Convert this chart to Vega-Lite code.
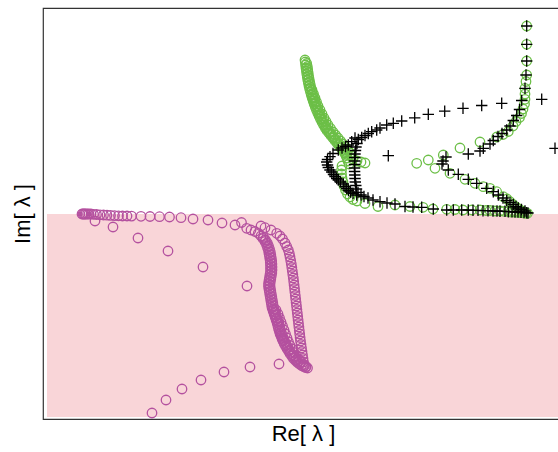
{
  "$schema": "https://vega.github.io/schema/vega-lite/v6.json",
  "width": 520,
  "height": 411,
  "autosize": "none",
  "padding": {"left": 43, "top": 8, "right": 0, "bottom": 33},
  "background": "white",
  "config": {
    "view": {"stroke": "#333", "strokeWidth": 1.2},
    "axis": {"grid": false, "labels": false, "ticks": false, "domain": false, "titleFont": "Liberation Sans", "titleFontSize": 22, "titleFontWeight": "normal", "titleColor": "#000"}
  },
  "datasets": {
    "bg": [{"re": 47, "re2": 563, "im": -203, "im2": 0}],
    "circ": [
      {"series":"A","re":82,"im":0},{"series":"A","re":83,"im":0},{"series":"A","re":84,"im":0},{"series":"A","re":85,"im":0},{"series":"A","re":86,"im":0},{"series":"A","re":87.5,"im":0},{"series":"A","re":89,"im":0},{"series":"A","re":91,"im":0},{"series":"A","re":93.5,"im":-0.3},{"series":"A","re":96.5,"im":-0.5},{"series":"A","re":100,"im":-0.8},{"series":"A","re":103.5,"im":-1},{"series":"A","re":107,"im":-1.2},{"series":"A","re":110.5,"im":-1.4},{"series":"A","re":114.5,"im":-1.6},{"series":"A","re":118.5,"im":-1.8},{"series":"A","re":122.5,"im":-2},{"series":"A","re":127,"im":-2},{"series":"A","re":131.5,"im":-2.1},{"series":"A","re":141,"im":-2.3},{"series":"A","re":150,"im":-2.5},{"series":"A","re":159.5,"im":-2.7},{"series":"A","re":169.5,"im":-3},{"series":"A","re":181,"im":-3.7},{"series":"A","re":193,"im":-5},{"series":"A","re":208,"im":-6},{"series":"A","re":222,"im":-9},{"series":"A","re":235,"im":-11},{"series":"A","re":241.5,"im":-8.5},{"series":"A","re":246.7,"im":-14.3},{"series":"A","re":251,"im":-16},{"series":"A","re":255,"im":-17.5},{"series":"A","re":258.3,"im":-19.3},
      {"series":"A","re":261,"im":-22},{"series":"A","re":263,"im":-24.5},{"series":"A","re":265,"im":-27.5},{"series":"A","re":266.5,"im":-30.5},{"series":"A","re":267.5,"im":-33.5},{"series":"A","re":268.5,"im":-36.5},{"series":"A","re":269,"im":-39.5},{"series":"A","re":269.5,"im":-42.5},{"series":"A","re":270,"im":-45.5},{"series":"A","re":270.3,"im":-48.5},{"series":"A","re":270.5,"im":-51.5},{"series":"A","re":270.5,"im":-54.5},{"series":"A","re":270.5,"im":-57.5},{"series":"A","re":270,"im":-60.5},{"series":"A","re":269.5,"im":-63.5},{"series":"A","re":269,"im":-66.5},{"series":"A","re":268.5,"im":-69.5},{"series":"A","re":268.5,"im":-72.5},{"series":"A","re":269,"im":-75.5},{"series":"A","re":269.5,"im":-78.5},{"series":"A","re":270,"im":-81.5},{"series":"A","re":270.5,"im":-84.5},{"series":"A","re":271,"im":-87.5},{"series":"A","re":271.5,"im":-90.5},{"series":"A","re":272,"im":-93.5},{"series":"A","re":273,"im":-96.5},{"series":"A","re":274,"im":-99.5},{"series":"A","re":275,"im":-102.5},{"series":"A","re":276,"im":-105.5},{"series":"A","re":277,"im":-108.5},{"series":"A","re":277.8,"im":-111.5},{"series":"A","re":278.5,"im":-114.5},{"series":"A","re":279.3,"im":-117},{"series":"A","re":280,"im":-119.5},{"series":"A","re":281,"im":-122},{"series":"A","re":282,"im":-124.5},{"series":"A","re":283,"im":-127},{"series":"A","re":284.2,"im":-129.5},{"series":"A","re":285.5,"im":-132},{"series":"A","re":287,"im":-134.5},{"series":"A","re":288.5,"im":-137},{"series":"A","re":290,"im":-139.5},{"series":"A","re":291.7,"im":-142},{"series":"A","re":293.5,"im":-144.5},{"series":"A","re":295.5,"im":-146.5},{"series":"A","re":297.5,"im":-148.5},{"series":"A","re":299.5,"im":-150},{"series":"A","re":301.5,"im":-151.5},{"series":"A","re":303.5,"im":-152.5},{"series":"A","re":305.5,"im":-153.5},{"series":"A","re":307.5,"im":-154},
      {"series":"A","re":263.5,"im":-23.3},{"series":"A","re":265.5,"im":-26},{"series":"A","re":267.3,"im":-29},{"series":"A","re":268.5,"im":-32},{"series":"A","re":269.5,"im":-35},{"series":"A","re":270.3,"im":-38},{"series":"A","re":270.8,"im":-41},{"series":"A","re":271.3,"im":-44},{"series":"A","re":271.7,"im":-47},{"series":"A","re":271.9,"im":-50},{"series":"A","re":272,"im":-53},{"series":"A","re":272,"im":-56},{"series":"A","re":271.8,"im":-59},{"series":"A","re":271.3,"im":-62},{"series":"A","re":270.8,"im":-65},{"series":"A","re":270.3,"im":-68},{"series":"A","re":270,"im":-71},{"series":"A","re":270.3,"im":-74},{"series":"A","re":270.8,"im":-77},{"series":"A","re":271.3,"im":-80},{"series":"A","re":271.8,"im":-83},{"series":"A","re":272.3,"im":-86},{"series":"A","re":272.8,"im":-89},{"series":"A","re":273.3,"im":-92},{"series":"A","re":274,"im":-95},{"series":"A","re":275,"im":-98},{"series":"A","re":276,"im":-101},{"series":"A","re":277,"im":-104},{"series":"A","re":278,"im":-107},{"series":"A","re":279,"im":-110},{"series":"A","re":279.7,"im":-113},{"series":"A","re":280.4,"im":-115.8},{"series":"A","re":281.2,"im":-118.3},{"series":"A","re":282,"im":-120.8},{"series":"A","re":283,"im":-123.3},{"series":"A","re":284,"im":-125.8},{"series":"A","re":285.1,"im":-128.3},{"series":"A","re":286.4,"im":-130.8},{"series":"A","re":287.8,"im":-133.3},{"series":"A","re":289.3,"im":-135.8},{"series":"A","re":290.8,"im":-138.3},{"series":"A","re":292.4,"im":-140.8},{"series":"A","re":294.1,"im":-143.3},{"series":"A","re":296,"im":-145.5},{"series":"A","re":298,"im":-147.5},
      {"series":"A","re":276,"im":-96},{"series":"A","re":278,"im":-100},{"series":"A","re":279.5,"im":-104},{"series":"A","re":281,"im":-108},{"series":"A","re":282.5,"im":-112},{"series":"A","re":284,"im":-116},{"series":"A","re":285.5,"im":-120},{"series":"A","re":287,"im":-124},{"series":"A","re":288.5,"im":-128},{"series":"A","re":290,"im":-131.5},{"series":"A","re":292,"im":-135},{"series":"A","re":294,"im":-138.5},{"series":"A","re":296,"im":-142},{"series":"A","re":298.5,"im":-145},{"series":"A","re":301,"im":-148},{"series":"A","re":303.5,"im":-150.5},{"series":"A","re":306,"im":-152.5},
      {"series":"A","re":261,"im":-12},{"series":"A","re":265,"im":-13.7},{"series":"A","re":271,"im":-16},{"series":"A","re":276.7,"im":-19.3},{"series":"A","re":280,"im":-22},{"series":"A","re":282.5,"im":-25},{"series":"A","re":285,"im":-29},{"series":"A","re":286.7,"im":-32.5},{"series":"A","re":288.3,"im":-36},{"series":"A","re":289.3,"im":-39.5},{"series":"A","re":290,"im":-43},{"series":"A","re":290.7,"im":-46.5},{"series":"A","re":291.3,"im":-50},{"series":"A","re":291.8,"im":-53.5},{"series":"A","re":292.3,"im":-57},{"series":"A","re":292.8,"im":-60.5},{"series":"A","re":293.3,"im":-64},{"series":"A","re":293.7,"im":-67.5},{"series":"A","re":294.1,"im":-71},{"series":"A","re":294.5,"im":-74.5},{"series":"A","re":294.9,"im":-78},{"series":"A","re":295.3,"im":-81.5},{"series":"A","re":295.7,"im":-85},{"series":"A","re":296.1,"im":-88.5},{"series":"A","re":296.5,"im":-92},{"series":"A","re":296.9,"im":-95.5},{"series":"A","re":297.3,"im":-99},{"series":"A","re":297.7,"im":-102.5},{"series":"A","re":298.1,"im":-106},{"series":"A","re":298.5,"im":-109.5},{"series":"A","re":298.9,"im":-113},{"series":"A","re":299.3,"im":-116.5},{"series":"A","re":299.7,"im":-120},{"series":"A","re":300.1,"im":-123.5},{"series":"A","re":300.5,"im":-127},{"series":"A","re":301,"im":-130.5},{"series":"A","re":301.5,"im":-134},{"series":"A","re":302,"im":-137.5},{"series":"A","re":302.5,"im":-141},{"series":"A","re":303,"im":-144.5},{"series":"A","re":303.5,"im":-148},{"series":"A","re":304.5,"im":-151.5},
      {"series":"A","re":95,"im":-7},{"series":"A","re":113,"im":-13},{"series":"A","re":138,"im":-24},{"series":"A","re":168,"im":-37},{"series":"A","re":203,"im":-53},{"series":"A","re":247,"im":-72},
      {"series":"A","re":152,"im":-199},{"series":"A","re":166,"im":-186},{"series":"A","re":182,"im":-175},{"series":"A","re":201,"im":-166},{"series":"A","re":224,"im":-158},{"series":"A","re":250,"im":-153},{"series":"A","re":279,"im":-150},
      {"series":"B","re":305,"im":154},{"series":"B","re":305.3,"im":152},{"series":"B","re":305.6,"im":149},{"series":"B","re":306,"im":146},{"series":"B","re":306.4,"im":143},{"series":"B","re":306.8,"im":140},{"series":"B","re":307.3,"im":137},{"series":"B","re":307.8,"im":134},{"series":"B","re":308.4,"im":131},{"series":"B","re":309,"im":128},{"series":"B","re":309.7,"im":125},{"series":"B","re":310.5,"im":122},{"series":"B","re":311.3,"im":119},{"series":"B","re":312.2,"im":116},{"series":"B","re":313.2,"im":113},{"series":"B","re":314.2,"im":110},{"series":"B","re":315.3,"im":107},{"series":"B","re":316.5,"im":104},{"series":"B","re":317.8,"im":101},{"series":"B","re":319.1,"im":98},{"series":"B","re":320.5,"im":95},{"series":"B","re":322,"im":92},{"series":"B","re":323.6,"im":89},{"series":"B","re":325.3,"im":86},{"series":"B","re":327,"im":83.5},{"series":"B","re":329,"im":81},{"series":"B","re":331,"im":78.5},{"series":"B","re":333,"im":76},{"series":"B","re":335,"im":73.5},{"series":"B","re":337,"im":71},{"series":"B","re":339,"im":68.5},{"series":"B","re":341,"im":66},{"series":"B","re":343,"im":63.5},{"series":"B","re":344.5,"im":61},{"series":"B","re":346,"im":58.5},{"series":"B","re":347,"im":56},{"series":"B","re":348,"im":53},{"series":"B","re":349,"im":50},
      {"series":"B","re":306.7,"im":150.5},{"series":"B","re":307.3,"im":147.5},{"series":"B","re":307.7,"im":144.5},{"series":"B","re":308.1,"im":141.5},{"series":"B","re":308.5,"im":138.5},{"series":"B","re":309,"im":135.5},{"series":"B","re":309.6,"im":132.5},{"series":"B","re":310.2,"im":129.5},{"series":"B","re":310.8,"im":126.5},{"series":"B","re":311.6,"im":123.5},{"series":"B","re":312.4,"im":120.5},{"series":"B","re":313.2,"im":117.5},{"series":"B","re":314.2,"im":114.5},{"series":"B","re":315.2,"im":111.5},{"series":"B","re":316.2,"im":108.5},{"series":"B","re":317.4,"im":105.5},{"series":"B","re":318.6,"im":102.5},{"series":"B","re":319.9,"im":99.5},{"series":"B","re":321.3,"im":96.5},{"series":"B","re":322.7,"im":93.5},{"series":"B","re":324.3,"im":90.5},{"series":"B","re":325.9,"im":87.5},{"series":"B","re":327.6,"im":84.8},{"series":"B","re":329.5,"im":82.3},{"series":"B","re":331.5,"im":79.8},{"series":"B","re":333.5,"im":77.3},{"series":"B","re":335.5,"im":74.8},{"series":"B","re":337.5,"im":72.3},{"series":"B","re":339.5,"im":69.8},{"series":"B","re":341.5,"im":67.3},{"series":"B","re":343.5,"im":64.8},{"series":"B","re":345.2,"im":62.3},{"series":"B","re":346.7,"im":59.8},
      {"series":"B","re":312,"im":124},{"series":"B","re":313.5,"im":120},{"series":"B","re":315,"im":116},{"series":"B","re":316.5,"im":112},{"series":"B","re":318,"im":108},{"series":"B","re":320,"im":104},{"series":"B","re":322,"im":100},{"series":"B","re":324,"im":96},{"series":"B","re":326,"im":92.5},{"series":"B","re":328,"im":89},{"series":"B","re":330.5,"im":85.5},{"series":"B","re":333,"im":82},{"series":"B","re":335.5,"im":79},{"series":"B","re":338,"im":76},{"series":"B","re":340.5,"im":73},{"series":"B","re":343,"im":70},{"series":"B","re":345.5,"im":67},{"series":"B","re":348,"im":64},{"series":"B","re":350,"im":61},{"series":"B","re":351.5,"im":58},{"series":"B","re":353,"im":55},{"series":"B","re":357,"im":53},{"series":"B","re":361,"im":52},{"series":"B","re":365,"im":51},
      {"series":"B","re":342,"im":48},{"series":"B","re":341.5,"im":44},{"series":"B","re":341.5,"im":40},{"series":"B","re":342,"im":36},{"series":"B","re":343,"im":32},{"series":"B","re":344,"im":28},{"series":"B","re":345.5,"im":24},{"series":"B","re":347.5,"im":20},{"series":"B","re":350,"im":17},{"series":"B","re":353,"im":14.5},{"series":"B","re":357,"im":13},{"series":"B","re":365,"im":10.5},{"series":"B","re":378,"im":7.5},{"series":"B","re":395,"im":9},{"series":"B","re":410,"im":7.5},
      {"series":"B","re":423,"im":6.7},{"series":"B","re":433,"im":5},{"series":"B","re":446.7,"im":4.7},{"series":"B","re":455,"im":4.5},{"series":"B","re":463,"im":4},{"series":"B","re":471.7,"im":4},{"series":"B","re":480,"im":4},{"series":"B","re":486,"im":3.5},{"series":"B","re":490,"im":3.5},{"series":"B","re":495,"im":3},{"series":"B","re":500,"im":3},{"series":"B","re":504,"im":2.7},{"series":"B","re":508,"im":2.5},{"series":"B","re":511,"im":2},{"series":"B","re":514,"im":2},{"series":"B","re":517,"im":1.7},{"series":"B","re":520,"im":1.5},{"series":"B","re":522,"im":1.3},{"series":"B","re":524,"im":1},{"series":"B","re":526,"im":1},{"series":"B","re":527.5,"im":0.7},
      {"series":"B","re":435,"im":45.7},{"series":"B","re":450,"im":40.7},{"series":"B","re":465,"im":34.7},{"series":"B","re":475,"im":30.7},{"series":"B","re":483.3,"im":27.3},{"series":"B","re":490,"im":25.7},{"series":"B","re":496.7,"im":22.3},{"series":"B","re":503.3,"im":17.3},{"series":"B","re":507,"im":15},{"series":"B","re":510,"im":12.3},{"series":"B","re":513,"im":9.5},{"series":"B","re":516,"im":7},{"series":"B","re":519,"im":5},{"series":"B","re":522,"im":3},
      {"series":"B","re":416.7,"im":50.7},{"series":"B","re":428.3,"im":54},{"series":"B","re":443.3,"im":59},{"series":"B","re":460,"im":66},{"series":"B","re":480,"im":72},{"series":"B","re":496.7,"im":77},{"series":"B","re":503,"im":79.5},{"series":"B","re":508.3,"im":82.5},{"series":"B","re":513,"im":88},{"series":"B","re":516,"im":92.5},{"series":"B","re":519.5,"im":96.5},{"series":"B","re":521.5,"im":100.5},{"series":"B","re":523,"im":105},{"series":"B","re":524.5,"im":110},{"series":"B","re":525,"im":114.7},{"series":"B","re":525,"im":120},{"series":"B","re":525,"im":125.7},{"series":"B","re":526,"im":132.5},{"series":"B","re":526.7,"im":139},{"series":"B","re":526.7,"im":153},{"series":"B","re":526.7,"im":169.7},{"series":"B","re":526.7,"im":188}
    ],
    "plus": [
      {"series":"C","re":526.7,"im":188},{"series":"C","re":526.7,"im":169.7},{"series":"C","re":526.7,"im":153},{"series":"C","re":526,"im":139},{"series":"C","re":525,"im":125.7},
      {"series":"C","re":541.7,"im":114.7},{"series":"C","re":521.7,"im":113.5},{"series":"C","re":501.7,"im":110.7},{"series":"C","re":481.7,"im":108.5},{"series":"C","re":463,"im":105.7},{"series":"C","re":444.7,"im":102.8},{"series":"C","re":428.3,"im":99.7},{"series":"C","re":414.7,"im":96.2},{"series":"C","re":401.7,"im":93},{"series":"C","re":393.3,"im":90.7},{"series":"C","re":386.7,"im":89},{"series":"C","re":380,"im":86},{"series":"C","re":376.7,"im":84},{"series":"C","re":371.7,"im":82.3},{"series":"C","re":368.3,"im":80.5},{"series":"C","re":365,"im":78.5},{"series":"C","re":361.7,"im":76.5},{"series":"C","re":358.3,"im":74.5},
      {"series":"C","re":357,"im":70.5},{"series":"C","re":356,"im":67},{"series":"C","re":355.5,"im":63.5},{"series":"C","re":355,"im":60},{"series":"C","re":354.8,"im":56.5},{"series":"C","re":354.6,"im":53},{"series":"C","re":354.5,"im":49.5},{"series":"C","re":354.5,"im":46},{"series":"C","re":354.6,"im":42.5},{"series":"C","re":354.8,"im":39},{"series":"C","re":355,"im":35.5},{"series":"C","re":355.3,"im":32},{"series":"C","re":355.8,"im":28.5},{"series":"C","re":356.5,"im":25},{"series":"C","re":358,"im":21.5},{"series":"C","re":361,"im":19},{"series":"C","re":364,"im":17.5},{"series":"C","re":368,"im":16},{"series":"C","re":373,"im":14},{"series":"C","re":380,"im":12.3},{"series":"C","re":387,"im":11},{"series":"C","re":395,"im":10},{"series":"C","re":405,"im":7.5},{"series":"C","re":413,"im":7},{"series":"C","re":421.7,"im":6.7},{"series":"C","re":433.3,"im":5},{"series":"C","re":446.7,"im":4},{"series":"C","re":453.3,"im":4},{"series":"C","re":461.7,"im":4},{"series":"C","re":468.3,"im":4},{"series":"C","re":473,"im":3.7},{"series":"C","re":478,"im":3.7},{"series":"C","re":483,"im":3.3},{"series":"C","re":488,"im":3.3},{"series":"C","re":493,"im":3},{"series":"C","re":497,"im":3},{"series":"C","re":500,"im":2.7},{"series":"C","re":505,"im":2.7},{"series":"C","re":508.3,"im":2.3},{"series":"C","re":512,"im":2.3},{"series":"C","re":515,"im":2},{"series":"C","re":518,"im":2},{"series":"C","re":521,"im":1.7},{"series":"C","re":524,"im":1.5},{"series":"C","re":526.7,"im":1.3},{"series":"C","re":528,"im":1},
      {"series":"C","re":338.3,"im":64},{"series":"C","re":333,"im":60.5},{"series":"C","re":330,"im":57.3},{"series":"C","re":327.5,"im":54.5},{"series":"C","re":326.7,"im":52},{"series":"C","re":327.5,"im":49},{"series":"C","re":328.3,"im":46.5},{"series":"C","re":330,"im":44},{"series":"C","re":331.7,"im":42},{"series":"C","re":333.5,"im":39.5},{"series":"C","re":335,"im":37.5},{"series":"C","re":336.7,"im":35.5},{"series":"C","re":338.3,"im":34},{"series":"C","re":340.5,"im":32},{"series":"C","re":343.3,"im":30},{"series":"C","re":345,"im":27.5},{"series":"C","re":346.7,"im":25.5},{"series":"C","re":348.5,"im":23.5},{"series":"C","re":350.5,"im":22},{"series":"C","re":353,"im":20.7},{"series":"C","re":356.7,"im":19},
      {"series":"C","re":342,"im":66},{"series":"C","re":345.5,"im":67.5},{"series":"C","re":348.3,"im":69},{"series":"C","re":351.7,"im":72.3},{"series":"C","re":355,"im":76},
      {"series":"C","re":519.5,"im":104.5},{"series":"C","re":516.7,"im":98.5},{"series":"C","re":513.3,"im":93.5},{"series":"C","re":510,"im":88},{"series":"C","re":506.7,"im":84},{"series":"C","re":502,"im":80.5},{"series":"C","re":498,"im":77.5},{"series":"C","re":493.3,"im":73.5},{"series":"C","re":490,"im":70},{"series":"C","re":483.3,"im":65.7},{"series":"C","re":480,"im":63},{"series":"C","re":468.3,"im":60},{"series":"C","re":446,"im":57},{"series":"C","re":443,"im":53},{"series":"C","re":442,"im":50},{"series":"C","re":448.3,"im":44},{"series":"C","re":458.3,"im":39.7},{"series":"C","re":468.3,"im":34.7},{"series":"C","re":476.7,"im":30.7},{"series":"C","re":486.7,"im":25.7},{"series":"C","re":493.3,"im":22.3},{"series":"C","re":498.3,"im":19},{"series":"C","re":503,"im":16},{"series":"C","re":506.7,"im":13.5},{"series":"C","re":510,"im":11.5},{"series":"C","re":513.3,"im":9.5},{"series":"C","re":516,"im":7.5},{"series":"C","re":518.3,"im":6},{"series":"C","re":521.5,"im":4.5},{"series":"C","re":525,"im":3},
      {"series":"C","re":388.3,"im":58.3},{"series":"C","re":555,"im":65.7}
    ]
  },
  "layer": [
    {
      "data": {"name": "bg"},
      "mark": {"type": "rect", "color": "#F9D5D8"},
      "encoding": {
        "x": {"field": "re", "type": "quantitative", "scale": {"domain": [43, 563], "nice": false, "zero": false}, "axis": {"title": "Re[ λ ]", "titlePadding": 4}},
        "x2": {"field": "re2"},
        "y": {"field": "im", "type": "quantitative", "scale": {"domain": [-205, 206], "nice": false, "zero": false}, "axis": {"title": "Im[ λ ]", "titlePadding": 9}},
        "y2": {"field": "im2"}
      }
    },
    {
      "data": {"name": "circ"},
      "mark": {"type": "point", "shape": "circle", "filled": false, "size": 90, "strokeWidth": 1.3, "opacity": 1},
      "encoding": {
        "x": {"field": "re", "type": "quantitative"},
        "y": {"field": "im", "type": "quantitative"},
        "color": {"field": "series", "type": "nominal", "scale": {"domain": ["A", "B"], "range": ["#B4519F", "#6CBF47"]}, "legend": null}
      }
    },
    {
      "data": {"name": "plus"},
      "mark": {"type": "point", "shape": "M-1,0L1,0M0,-1L0,1", "filled": false, "size": 130, "strokeWidth": 1.3, "color": "#000", "opacity": 1},
      "encoding": {
        "x": {"field": "re", "type": "quantitative"},
        "y": {"field": "im", "type": "quantitative"}
      }
    }
  ]
}
